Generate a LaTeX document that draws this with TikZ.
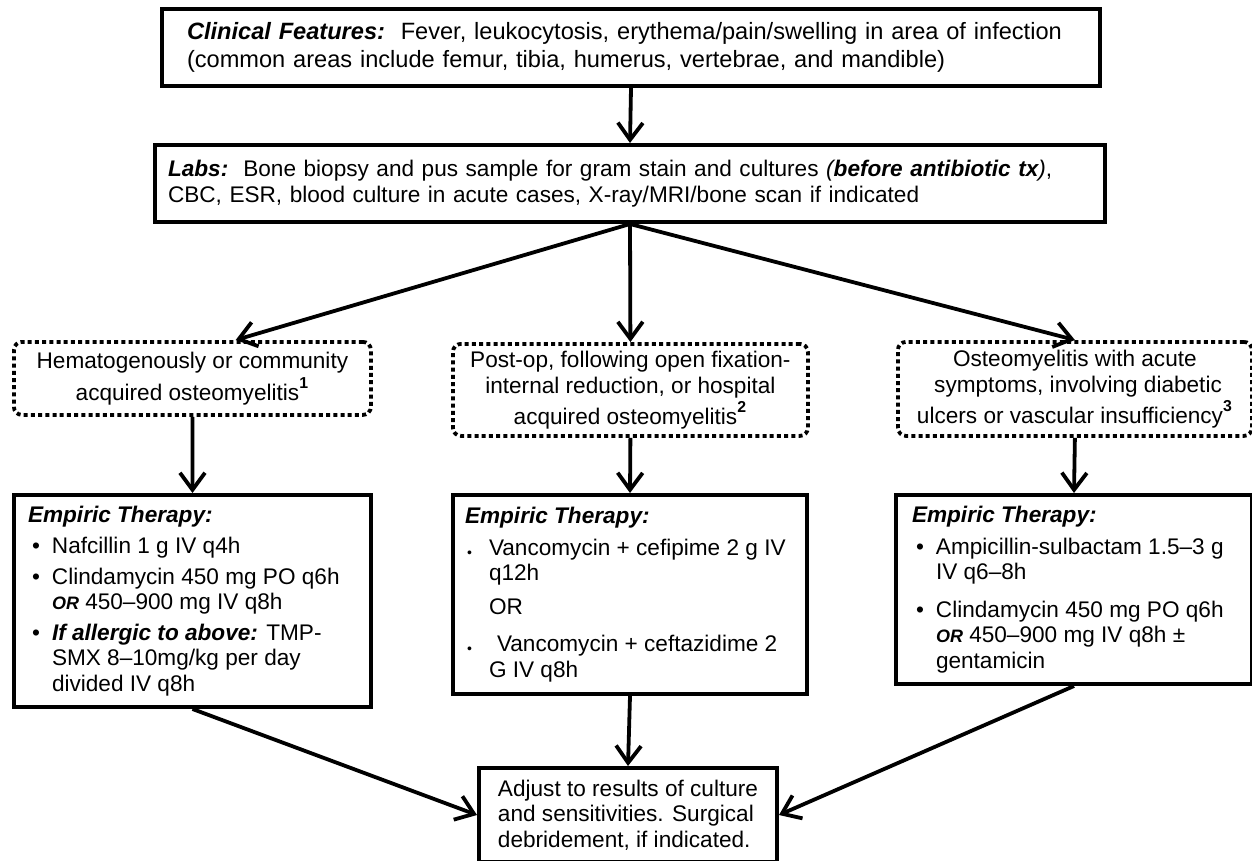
\documentclass[tikz,border=0pt]{standalone}
\usepackage{fontspec}
\setmainfont{Liberation Sans}
\usetikzlibrary{arrows.meta,calc}
\newcommand\bitem[1]{\par\hangindent=12pt\hangafter=1\noindent\makebox[12pt][l]{\hspace{2pt}\textbullet}#1}
\newcommand\mitem[1]{\par\hangindent=12pt\hangafter=1\noindent\makebox[12pt][l]{\hspace{1pt}\raisebox{-1.2pt}{\scriptsize\textbullet}}#1}
\newcommand\bor{{\small\bfseries\itshape OR}}
\newcommand\sups[1]{\raisebox{0.3ex}{\textsuperscript{\bfseries #1}}}
\newenvironment{boxtext}[1]{\begin{minipage}{#1}\raggedright}{\end{minipage}}
\begin{document}
\begin{tikzpicture}[x=0.5pt,y=-0.5pt,
  every node/.style={font=\fontsize{11.3pt}{12.75pt}\selectfont},
  box/.style={draw, line width=2pt, align=left, anchor=north west, inner ysep=0pt},
  dbox/.style={draw, line width=1.9pt, dash pattern=on 2pt off 1.6pt, rounded corners=4pt,
    align=center, anchor=north west, inner sep=0pt},
  arr/.style={line width=1.9pt, -{Straight Barb[length=8.5pt,width=12.5pt]}}]
\useasboundingbox (0,0) rectangle (1252,861);

\node[box, inner xsep=12.5pt, text width=444pt, minimum width=469pt, minimum height=38.5pt,
  font=\fontsize{11.8pt}{14pt}\selectfont] (top) at (160,7)
 {\textbf{\textit{Clinical Features:}}\ \ Fever, leukocytosis, erythema/pain/swelling in area of infection\\
 (common areas include femur, tibia, humerus, vertebrae, and mandible)};

\node[box, inner xsep=6.5pt, text width=462pt, minimum width=475pt, minimum height=38.5pt] (labs) at (153,143)
 {\textbf{\textit{Labs:}}\ \ Bone biopsy and pus sample for gram stain and cultures \textit{(\textbf{before antibiotic tx})},\\
 CBC, ESR, blood culture in acute cases, X-ray/MRI/bone scan if indicated};

\node[dbox, minimum width=178.5pt, minimum height=36.5pt] (d1) at (12,340)
 {Hematogenously or community\\[1.5pt]acquired osteomyelitis\sups{1}};
\node[dbox, minimum width=177.5pt, minimum height=46pt] (d2) at (451,342)
 {Post-op, following open fixation-\\[0.5pt]internal reduction, or hospital\\[0.5pt]acquired osteomyelitis\sups{2}};
\node[dbox, minimum width=177pt, minimum height=47pt] (d3) at (896,340)
 {Osteomyelitis with acute\\[0.5pt]\ symptoms, involving diabetic\\[0.5pt]ulcers or vascular insufficiency\sups{3}};

\node[box, inner xsep=7pt, minimum width=178.5pt, minimum height=106pt] (e1) at (12,493)
 {\begin{boxtext}{164.5pt}\textbf{\textit{Empiric Therapy:}}\par\vspace{3pt}
  \bitem{Nafcillin 1 g IV q4h}\par\vspace{2.5pt}
  \bitem{Clindamycin 450 mg PO q6h\newline \bor\ 450--900 mg IV q8h}\par\vspace{2.5pt}
  \bitem{\textbf{\textit{If allergic to above:}} TMP-\newline SMX 8--10mg/kg per day\newline divided IV q8h}\par
  \end{boxtext}};

\node[box, inner xsep=6pt, minimum width=177pt, minimum height=99.5pt] (e2) at (451,493)
 {\begin{boxtext}{165pt}\textbf{\textit{Empiric Therapy:}}\par\vspace{3pt}
  \mitem{Vancomycin + cefipime 2 g IV\newline q12h}\par\vspace{4pt}
  \noindent\hspace{12pt}OR\par\vspace{6pt}
  \mitem{\hspace{4pt}Vancomycin + ceftazidime 2\newline G IV q8h}\par
  \end{boxtext}};

\node[box, inner xsep=8pt, minimum width=178pt, minimum height=94.5pt] (e3) at (894,493)
 {\begin{boxtext}{162pt}\textbf{\textit{Empiric Therapy:}}\par\vspace{3pt}
  \bitem{Ampicillin-sulbactam 1.5--3 g\newline IV q6--8h}\par\vspace{6pt}
  \bitem{Clindamycin 450 mg PO q6h\newline \bor\ 450--900 mg IV q8h \textpm\newline gentamicin}\par
  \end{boxtext}};

\node[box, inner xsep=9pt, minimum width=149pt, minimum height=47pt] (fin) at (477,766)
 {Adjust to results of culture\\and sensitivities. Surgical\\debridement, if indicated.};

\draw[arr] (top.south) -- (labs.north);
\draw[arr] (labs.south) -- ($(d1.north west)!0.62!(d1.north east)$);
\draw[arr] (labs.south) -- (d2.north);
\draw[arr] (labs.south) -- (d3.north);
\draw[arr] (d1.south) -- (e1.north);
\draw[arr] (d2.south) -- (e2.north);
\draw[arr] (d3.south) -- (e3.north);
\draw[arr] (e1.south) -- (fin.west);
\draw[arr] (e2.south) -- (fin.north);
\draw[arr] (e3.south) -- (fin.east);
\end{tikzpicture}
\end{document}
